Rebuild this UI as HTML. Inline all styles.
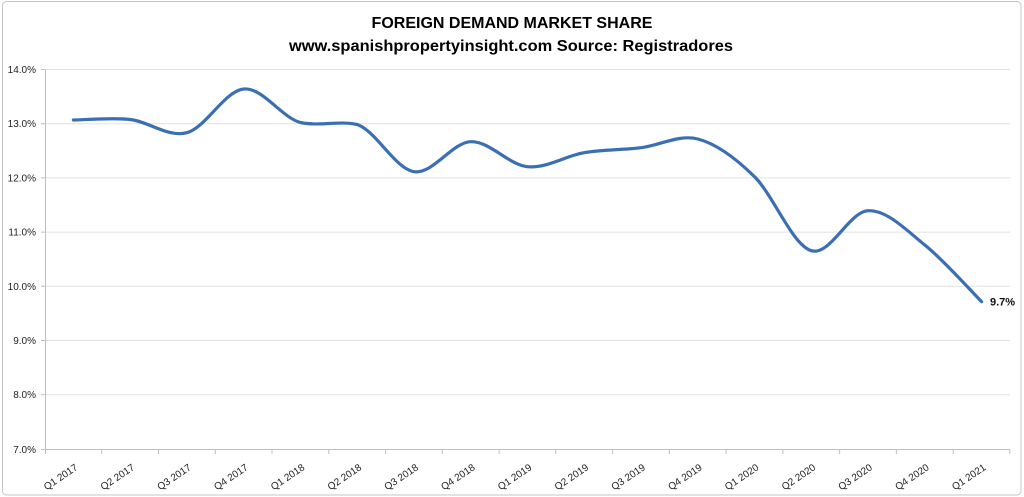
<!DOCTYPE html>
<html>
<head>
<meta charset="utf-8">
<style>
html,body{margin:0;padding:0;background:#fff;}
svg{display:block;}
text{font-family:"Liberation Sans",sans-serif;}
</style>
</head>
<body>
<svg width="1024" height="497" viewBox="0 0 1024 497" xmlns="http://www.w3.org/2000/svg">
<rect x="0" y="0" width="1024" height="497" fill="#fff"/>
<rect x="2.5" y="1.5" width="1018.5" height="493.5" rx="4" ry="4" fill="#fff" stroke="#c4c4c4" stroke-width="1"/>

<!-- title -->
<text x="512" y="28" text-anchor="middle" font-size="16" font-weight="bold" fill="#000">FOREIGN DEMAND MARKET SHARE</text>
<text x="511" y="51" text-anchor="middle" font-size="16" font-weight="bold" fill="#000" textLength="444" lengthAdjust="spacingAndGlyphs">www.spanishpropertyinsight.com Source: Registradores</text>

<!-- gridlines -->
<g stroke="#e0e0e0" stroke-width="1">
<line x1="45" y1="69.5" x2="1010" y2="69.5"/>
<line x1="45" y1="123.7" x2="1010" y2="123.7"/>
<line x1="45" y1="177.9" x2="1010" y2="177.9"/>
<line x1="45" y1="232.1" x2="1010" y2="232.1"/>
<line x1="45" y1="286.3" x2="1010" y2="286.3"/>
<line x1="45" y1="340.5" x2="1010" y2="340.5"/>
<line x1="45" y1="394.7" x2="1010" y2="394.7"/>
</g>

<!-- axes -->
<g stroke="#bfbfbf" stroke-width="1">
<line x1="45.5" y1="69.5" x2="45.5" y2="449.5"/>
<line x1="45" y1="449.5" x2="1010" y2="449.5"/>
<line x1="41" y1="69.5" x2="45" y2="69.5"/>
<line x1="41" y1="123.7" x2="45" y2="123.7"/>
<line x1="41" y1="177.9" x2="45" y2="177.9"/>
<line x1="41" y1="232.1" x2="45" y2="232.1"/>
<line x1="41" y1="286.3" x2="45" y2="286.3"/>
<line x1="41" y1="340.5" x2="45" y2="340.5"/>
<line x1="41" y1="394.7" x2="45" y2="394.7"/>
<line x1="41" y1="449.5" x2="45" y2="449.5"/>
<line x1="45.5" y1="449.5" x2="45.5" y2="454"/>
<line x1="101.8" y1="449.5" x2="101.8" y2="454"/>
<line x1="158.5" y1="449.5" x2="158.5" y2="454"/>
<line x1="215.3" y1="449.5" x2="215.3" y2="454"/>
<line x1="272.0" y1="449.5" x2="272.0" y2="454"/>
<line x1="328.8" y1="449.5" x2="328.8" y2="454"/>
<line x1="385.6" y1="449.5" x2="385.6" y2="454"/>
<line x1="442.3" y1="449.5" x2="442.3" y2="454"/>
<line x1="499.1" y1="449.5" x2="499.1" y2="454"/>
<line x1="555.8" y1="449.5" x2="555.8" y2="454"/>
<line x1="612.6" y1="449.5" x2="612.6" y2="454"/>
<line x1="669.4" y1="449.5" x2="669.4" y2="454"/>
<line x1="726.1" y1="449.5" x2="726.1" y2="454"/>
<line x1="782.9" y1="449.5" x2="782.9" y2="454"/>
<line x1="839.6" y1="449.5" x2="839.6" y2="454"/>
<line x1="896.4" y1="449.5" x2="896.4" y2="454"/>
<line x1="953.2" y1="449.5" x2="953.2" y2="454"/>
<line x1="1009.9" y1="449.5" x2="1009.9" y2="454"/>
</g>

<!-- y labels -->
<g font-size="10" fill="#222" text-anchor="end">
<text x="36" y="73">14.0%</text>
<text x="36" y="127.2">13.0%</text>
<text x="36" y="181.4">12.0%</text>
<text x="36" y="235.6">11.0%</text>
<text x="36" y="289.8">10.0%</text>
<text x="36" y="344">9.0%</text>
<text x="36" y="398.2">8.0%</text>
<text x="36" y="453">7.0%</text>
</g>

<!-- x labels -->
<g font-size="10" fill="#222" text-anchor="end">
<text transform="translate(78.4,469) rotate(-34)">Q1 2017</text>
<text transform="translate(135.2,469) rotate(-34)">Q2 2017</text>
<text transform="translate(191.9,469) rotate(-34)">Q3 2017</text>
<text transform="translate(248.7,469) rotate(-34)">Q4 2017</text>
<text transform="translate(305.4,469) rotate(-34)">Q1 2018</text>
<text transform="translate(362.2,469) rotate(-34)">Q2 2018</text>
<text transform="translate(419.0,469) rotate(-34)">Q3 2018</text>
<text transform="translate(475.7,469) rotate(-34)">Q4 2018</text>
<text transform="translate(532.5,469) rotate(-34)">Q1 2019</text>
<text transform="translate(589.2,469) rotate(-34)">Q2 2019</text>
<text transform="translate(646.0,469) rotate(-34)">Q3 2019</text>
<text transform="translate(702.8,469) rotate(-34)">Q4 2019</text>
<text transform="translate(759.5,469) rotate(-34)">Q1 2020</text>
<text transform="translate(816.3,469) rotate(-34)">Q2 2020</text>
<text transform="translate(873.0,469) rotate(-34)">Q3 2020</text>
<text transform="translate(929.8,469) rotate(-34)">Q4 2020</text>
<text transform="translate(986.6,469) rotate(-34)">Q1 2021</text>
</g>

<!-- series -->
<path fill="none" stroke="#3a6fb3" stroke-width="3.2" stroke-linecap="round" stroke-linejoin="round"
d="M73.4,120
C82.86,119.92 111.28,117.38 130.2,119.5
C149.12,121.62 167.98,137.78 186.9,132.7
C205.82,127.62 224.78,90.78 243.7,89
C262.62,87.22 281.48,117.5 300.4,122.5
C319.32,126.5 338.28,120.5 357.2,124.5
C376.12,131 395.08,168.75 414.0,171.7
C432.92,174.65 451.78,142.53 470.7,141.7
C489.62,140.87 508.58,164.87 527.5,166.7
C546.42,168.53 565.28,155.87 584.2,152.7
C603.12,149.53 622.08,149.98 641.0,147.7
C659.92,145.42 678.88,134.17 697.8,139
C716.72,143.83 735.58,158.08 754.5,176.7
C773.42,195.32 792.38,245.03 811.3,250.7
C830.22,256.37 849.08,211.65 868.0,210.7
C886.92,209.75 905.88,229.83 924.8,245
C943.72,260.17 972.14,292.25 981.6,301.7"/>

<text x="990" y="305.5" font-size="11" font-weight="bold" fill="#111">9.7%</text>
</svg>
</body>
</html>
